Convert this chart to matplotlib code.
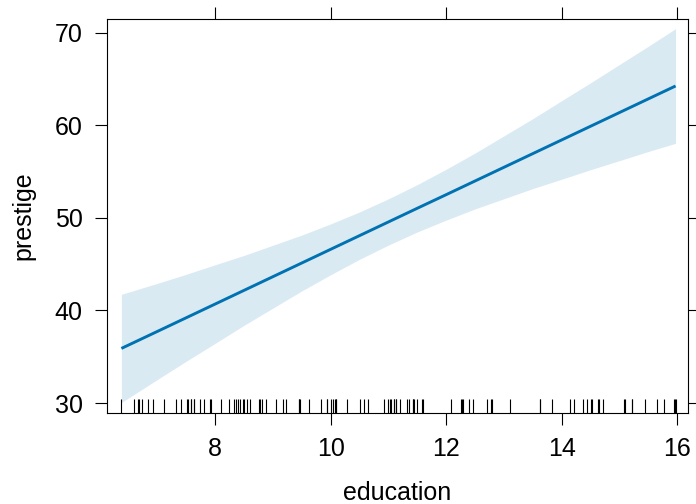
import numpy as np
import matplotlib
matplotlib.use("Agg")
import matplotlib.pyplot as plt

plt.rcParams['font.family'] = ['Liberation Sans', 'DejaVu Sans']

# effect curve
edu_grid = [6.38, 7.0, 7.5, 8.0, 8.5, 9.0, 9.5, 10.0, 10.5, 11.0, 11.5,
            12.0, 12.5, 13.0, 13.5, 14.0, 14.5, 15.0, 15.5, 15.97]
fit = [35.90, 37.73, 39.21, 40.69, 42.17, 43.65, 45.13, 46.61, 48.09, 49.57,
       51.05, 52.52, 54.00, 55.48, 56.96, 58.44, 59.92, 61.40, 62.88, 64.27]
upper = [41.75, 42.93, 43.91, 44.94, 45.95, 47.05, 48.15, 49.36, 50.65, 52.07,
         53.61, 55.27, 57.02, 58.88, 60.74, 62.69, 64.62, 66.60, 68.57, 70.47]
lower = [30.05, 32.53, 34.51, 36.44, 38.39, 40.25, 42.11, 43.86, 45.53, 47.07,
         48.49, 49.77, 50.98, 52.08, 53.18, 54.19, 55.22, 56.20, 57.19, 58.07]

# rug: observed education values
education = [13.11, 12.26, 12.77, 11.42, 14.62, 15.64, 15.09, 15.44, 14.52, 14.64,
             12.39, 12.30, 13.83, 14.44, 14.36, 14.21, 15.77, 14.15, 15.22, 14.50,
             15.97, 13.62, 15.08, 15.96, 15.94, 14.71, 12.46, 9.45, 13.62, 15.21,
             12.79, 11.09, 12.71, 11.44, 11.59, 11.49, 11.32, 10.64, 11.36, 9.17,
             12.09, 11.04, 9.22, 10.07, 10.51, 11.20, 11.13, 11.43, 11.00, 9.84,
             11.13, 10.05, 9.62, 9.93, 11.60, 11.09, 11.03, 9.47, 10.93, 7.74,
             8.50, 10.57, 9.46, 7.33, 7.11, 7.58, 6.84, 8.60, 8.88, 7.54,
             7.64, 7.64, 7.42, 6.69, 6.74, 10.09, 8.81, 8.40, 7.92, 8.43,
             8.78, 8.76, 10.29, 6.38, 8.10, 10.10, 6.67, 9.05, 9.93, 8.24,
             6.92, 6.60, 7.81, 8.33, 7.52, 12.27, 8.49, 7.58, 7.93, 8.37,
             10.00, 8.55]

xticks = [8, 10, 12, 14, 16]
yticks = [30, 40, 50, 60, 70]

fig = plt.figure(figsize=(6.96, 5.04), dpi=100)
ax = fig.add_axes([107/696, 1 - 413/504, (688 - 107)/696, (413 - 19)/504])

line_col = '#0072B2'
ax.fill_between(edu_grid, lower, upper, color=line_col, alpha=0.145, linewidth=0)
ax.plot(edu_grid, fit, color=line_col, lw=2.1, solid_capstyle='butt')
ax.vlines(education, 0, 14/394, transform=ax.get_xaxis_transform(),
          color='black', lw=0.8)

ax.set_xlim(6.131, 16.185)
ax.set_ylim(28.92, 71.51)
ax.set_xticks(xticks)
ax.set_yticks(yticks)
ax.tick_params(axis='both', which='both', direction='out', length=8.6, width=0.8,
               top=True, right=True, labeltop=False, labelright=False,
               labelsize=18, pad=9)
for s in ax.spines.values():
    s.set_linewidth(0.8)
ax.set_xlabel('education', fontsize=18, labelpad=14)
ax.set_ylabel('prestige', fontsize=18, labelpad=14)

fig.savefig('out.png', dpi=100)
